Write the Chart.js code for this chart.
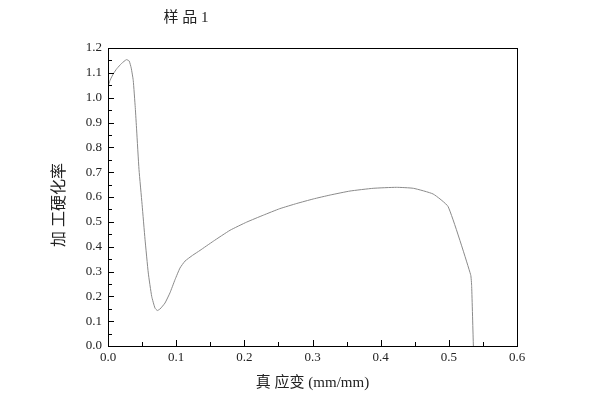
<!DOCTYPE html>
<html>
<head>
<meta charset="utf-8">
<script src="https://cdn.jsdelivr.net/npm/chart.js@4.4.1/dist/chart.umd.min.js"></script>
<style>
  html, body { margin: 0; padding: 0; background: #fff; }
  #wrap { width: 600px; height: 416px; position: relative; }
</style>
</head>
<body>
<div id="wrap"><canvas id="c"></canvas></div>
<script>
// strain (mm/mm) vs work-hardening rate
const strain = [
  0.000, 0.003, 0.008, 0.013, 0.020, 0.027, 0.031, 0.034, 0.037, 0.040,
  0.042, 0.0455, 0.050, 0.0543, 0.0591, 0.0641, 0.0689, 0.0723, 0.0763, 0.0836,
  0.0909, 0.0983, 0.1056, 0.113, 0.124, 0.135, 0.1545, 0.179, 0.2035, 0.228,
  0.252, 0.277, 0.301, 0.326, 0.355, 0.389, 0.423, 0.448, 0.477, 0.499,
  0.532, 0.5335, 0.536,
];
const rate = [
  1.043, 1.070, 1.097, 1.117, 1.138, 1.153, 1.148, 1.120, 1.070, 0.960,
  0.870, 0.710, 0.570, 0.430, 0.294, 0.200, 0.153, 0.143, 0.149, 0.173,
  0.214, 0.267, 0.314, 0.342, 0.365, 0.385, 0.422, 0.466, 0.499, 0.527,
  0.553, 0.574, 0.592, 0.608, 0.624, 0.635, 0.639, 0.635, 0.612, 0.561,
  0.287, 0.240, 0.000,
];
const xTicks = [0, 0.1, 0.2, 0.3, 0.4, 0.5, 0.6];
const yTicks = [0, 0.1, 0.2, 0.3, 0.4, 0.5, 0.6, 0.7, 0.8, 0.9, 1.0, 1.1, 1.2];

const chartTitle = "样 品 1";
const xTitle = "真 应变 (mm/mm)";
const yTitle = "加 工硬化率";

const FAMILY = "'Liberation Serif', 'Noto Sans CJK SC', serif";
const INK = "#222";

// box round the plot, inward major/minor ticks, title and y title
const framePlugin = {
  id: "frame",
  afterDraw(chart) {
    const { ctx, chartArea: a, scales } = chart;
    ctx.save();
    ctx.strokeStyle = "#000";
    ctx.lineWidth = 1;
    ctx.strokeRect(a.left + 0.5, a.top + 0.5, a.right - a.left, a.bottom - a.top);

    ctx.beginPath();
    for (let i = 0; i < xTicks.length * 2 - 1; i++) {
      const px = Math.round(scales.x.getPixelForValue(i * 0.05)) + 0.5;
      const len = i % 2 === 0 ? 6 : 4;
      ctx.moveTo(px, a.bottom);
      ctx.lineTo(px, a.bottom - len);
    }
    for (let i = 0; i < yTicks.length * 2 - 1; i++) {
      const py = Math.round(scales.y.getPixelForValue(i * 0.05)) + 0.5;
      const len = i % 2 === 0 ? 6 : 4;
      ctx.moveTo(a.left, py);
      ctx.lineTo(a.left + len, py);
    }
    ctx.stroke();

    ctx.fillStyle = INK;
    ctx.font = "15px " + FAMILY;
    ctx.textAlign = "center";
    ctx.textBaseline = "middle";
    ctx.fillText(chartTitle, 186, 18);

    ctx.translate(60, 205);
    ctx.rotate(-Math.PI / 2);
    ctx.font = "16px " + FAMILY;
    ctx.fillText(yTitle, 0, 0);
    ctx.restore();
  },
};

new Chart(document.getElementById("c"), {
  type: "scatter",
  data: {
    datasets: [
      {
        data: strain.map((x, i) => ({ x, y: rate[i] })),
        showLine: true,
        borderColor: "#8a8a8a",
        borderWidth: 1,
        pointRadius: 0,
        tension: 0.15,
      },
    ],
  },
  options: {
    responsive: true,
    maintainAspectRatio: false,
    animation: false,
    layout: { padding: { top: 48, right: 83, left: 0, bottom: 0 } },
    plugins: { legend: { display: false }, tooltip: { enabled: false } },
    scales: {
      x: {
        type: "linear",
        min: 0,
        max: 0.6,
        afterFit: (s) => { s.height = 70; },
        afterBuildTicks: (s) => { s.ticks = xTicks.map((v) => ({ value: v })); },
        grid: { display: false, drawTicks: false },
        border: { display: false },
        ticks: {
          color: INK,
          padding: 4,
          font: { family: FAMILY, size: 13 },
          callback: (v) => v.toFixed(1),
        },
        title: {
          display: true,
          text: xTitle,
          color: INK,
          padding: { top: 0, bottom: 24 },
          font: { family: FAMILY, size: 15 },
        },
      },
      y: {
        type: "linear",
        min: 0,
        max: 1.2,
        afterFit: (s) => { s.width = 108; },
        afterBuildTicks: (s) => { s.ticks = yTicks.map((v) => ({ value: v })); },
        grid: { display: false, drawTicks: false },
        border: { display: false },
        ticks: {
          color: INK,
          padding: 6,
          font: { family: FAMILY, size: 13 },
          callback: (v) => v.toFixed(1),
        },
      },
    },
  },
  plugins: [framePlugin],
});
</script>
</body>
</html>
